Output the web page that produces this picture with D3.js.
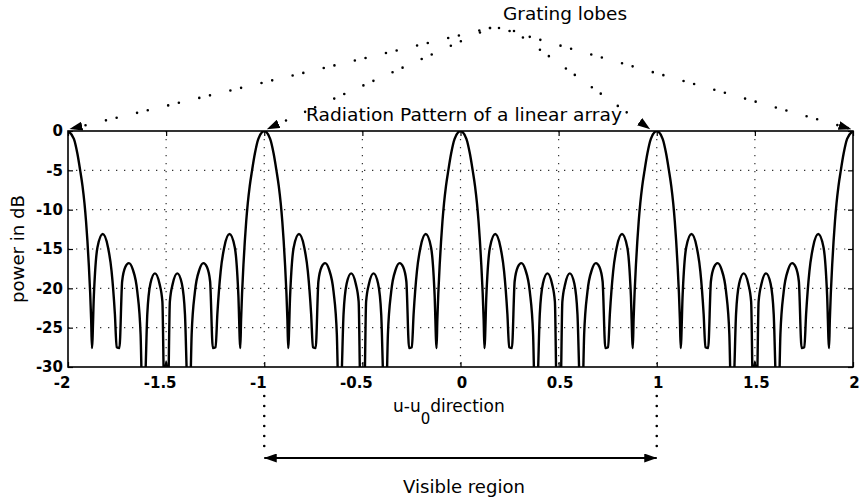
<!DOCTYPE html>
<html>
<head>
<meta charset="utf-8">
<script src="https://cdn.jsdelivr.net/npm/d3@7"></script>
<style>
  body { margin: 0; background: #fff; }
  svg { display: block; }
</style>
</head>
<body>
<svg id="chart" width="863" height="500"></svg>
<script>
// Axis ticks and their printed labels
const xTicks = [-2, -1.5, -1, -0.5, 0, 0.5, 1, 1.5, 2];
const xTickLabels = ["-2", "-1.5", "-1", "-0.5", "0", "0.5", "1", "1.5", "2"];
const yTicks = [0, -5, -10, -15, -20, -25, -30];
const yTickLabels = ["0", "-5", "-10", "-15", "-20", "-25", "-30"];

// Array factor power in dB, sampled along u - u0 (values under -30 dB fall below the axis)
const pattern = [
  [-2.000, 0], [-1.970, -1.0], [-1.952, -2.9], [-1.938, -5.0], [-1.926, -7.0], [-1.916, -9.2],
  [-1.908, -11.5], [-1.901, -14.0], [-1.894, -17.0], [-1.887, -20.6], [-1.882, -24.0], [-1.878, -27.6],
  [-1.868, -20.8], [-1.850, -14.8], [-1.823, -13.1],
  [-1.796, -14.8], [-1.778, -17.8], [-1.761, -23.3], [-1.752, -27.5], [-1.738, -27.6], [-1.724, -19.1],
  [-1.708, -17.3], [-1.690, -16.8], [-1.670, -17.6], [-1.647, -20.4], [-1.630, -25.9], [-1.622, -33],
  [-1.610, -33], [-1.596, -23.3], [-1.580, -19.4], [-1.557, -18.1], [-1.534, -19.4], [-1.519, -21.7],
  [-1.510, -33], [-1.500, -29.3], [-1.490, -33], [-1.481, -21.7], [-1.466, -19.4], [-1.443, -18.1],
  [-1.420, -19.4], [-1.404, -23.3], [-1.390, -33], [-1.378, -33], [-1.370, -25.9], [-1.353, -20.4],
  [-1.330, -17.6], [-1.310, -16.8], [-1.292, -17.3], [-1.276, -19.1], [-1.262, -27.6], [-1.248, -27.5],
  [-1.239, -23.3], [-1.222, -17.8], [-1.204, -14.8], [-1.177, -13.1], [-1.150, -14.8], [-1.132, -20.8],
  [-1.122, -27.6], [-1.118, -24.0], [-1.113, -20.6], [-1.106, -17.0], [-1.099, -14.0], [-1.092, -11.5],
  [-1.084, -9.2], [-1.074, -7.0], [-1.062, -5.0], [-1.048, -2.9], [-1.030, -1.0],
  [-1.000, 0], [-0.970, -1.0], [-0.952, -2.9], [-0.938, -5.0], [-0.926, -7.0], [-0.916, -9.2],
  [-0.908, -11.5], [-0.901, -14.0], [-0.894, -17.0], [-0.887, -20.6], [-0.882, -24.0], [-0.878, -27.6],
  [-0.868, -20.8], [-0.850, -14.8], [-0.823, -13.1],
  [-0.796, -14.8], [-0.778, -17.8], [-0.761, -23.3], [-0.752, -27.5], [-0.738, -27.6], [-0.724, -19.1],
  [-0.708, -17.3], [-0.690, -16.8], [-0.670, -17.6], [-0.647, -20.4], [-0.630, -25.9], [-0.622, -33],
  [-0.610, -33], [-0.596, -23.3], [-0.580, -19.4], [-0.557, -18.1], [-0.534, -19.4], [-0.519, -21.7],
  [-0.510, -33], [-0.490, -33], [-0.481, -21.7], [-0.466, -19.4], [-0.443, -18.1],
  [-0.420, -19.4], [-0.404, -23.3], [-0.390, -33], [-0.378, -33], [-0.370, -25.9], [-0.353, -20.4],
  [-0.330, -17.6], [-0.310, -16.8], [-0.292, -17.3], [-0.276, -19.1], [-0.262, -27.6], [-0.248, -27.5],
  [-0.239, -23.3], [-0.222, -17.8], [-0.204, -14.8], [-0.177, -13.1], [-0.150, -14.8], [-0.132, -20.8],
  [-0.122, -27.6], [-0.118, -24.0], [-0.113, -20.6], [-0.106, -17.0], [-0.099, -14.0], [-0.092, -11.5],
  [-0.084, -9.2], [-0.074, -7.0], [-0.062, -5.0], [-0.048, -2.9], [-0.030, -1.0],
  [0.000, 0], [0.030, -1.0], [0.048, -2.9], [0.062, -5.0], [0.074, -7.0], [0.084, -9.2],
  [0.092, -11.5], [0.099, -14.0], [0.106, -17.0], [0.113, -20.6], [0.118, -24.0], [0.122, -27.6],
  [0.132, -20.8], [0.150, -14.8], [0.177, -13.1],
  [0.204, -14.8], [0.222, -17.8], [0.239, -23.3], [0.248, -27.5], [0.262, -27.6], [0.276, -19.1],
  [0.292, -17.3], [0.310, -16.8], [0.330, -17.6], [0.353, -20.4], [0.370, -25.9], [0.378, -33],
  [0.390, -33], [0.404, -23.3], [0.420, -19.4], [0.443, -18.1], [0.466, -19.4], [0.481, -21.7],
  [0.490, -33], [0.510, -33], [0.519, -21.7], [0.534, -19.4], [0.557, -18.1],
  [0.580, -19.4], [0.596, -23.3], [0.610, -33], [0.622, -33], [0.630, -25.9], [0.647, -20.4],
  [0.670, -17.6], [0.690, -16.8], [0.708, -17.3], [0.724, -19.1], [0.738, -27.6], [0.752, -27.5],
  [0.761, -23.3], [0.778, -17.8], [0.796, -14.8], [0.823, -13.1], [0.850, -14.8], [0.868, -20.8],
  [0.878, -27.6], [0.882, -24.0], [0.887, -20.6], [0.894, -17.0], [0.901, -14.0], [0.908, -11.5],
  [0.916, -9.2], [0.926, -7.0], [0.938, -5.0], [0.952, -2.9], [0.970, -1.0],
  [1.000, 0], [1.030, -1.0], [1.048, -2.9], [1.062, -5.0], [1.074, -7.0], [1.084, -9.2],
  [1.092, -11.5], [1.099, -14.0], [1.106, -17.0], [1.113, -20.6], [1.118, -24.0], [1.122, -27.6],
  [1.132, -20.8], [1.150, -14.8], [1.177, -13.1],
  [1.204, -14.8], [1.222, -17.8], [1.239, -23.3], [1.248, -27.5], [1.262, -27.6], [1.276, -19.1],
  [1.292, -17.3], [1.310, -16.8], [1.330, -17.6], [1.353, -20.4], [1.370, -25.9], [1.378, -33],
  [1.390, -33], [1.404, -23.3], [1.420, -19.4], [1.443, -18.1], [1.466, -19.4], [1.481, -21.7],
  [1.490, -33], [1.500, -29.3], [1.510, -33], [1.519, -21.7], [1.534, -19.4], [1.557, -18.1],
  [1.580, -19.4], [1.596, -23.3], [1.610, -33], [1.622, -33], [1.630, -25.9], [1.647, -20.4],
  [1.670, -17.6], [1.690, -16.8], [1.708, -17.3], [1.724, -19.1], [1.738, -27.6], [1.752, -27.5],
  [1.761, -23.3], [1.778, -17.8], [1.796, -14.8], [1.823, -13.1], [1.850, -14.8], [1.868, -20.8],
  [1.878, -27.6], [1.882, -24.0], [1.887, -20.6], [1.894, -17.0], [1.901, -14.0], [1.908, -11.5],
  [1.916, -9.2], [1.926, -7.0], [1.938, -5.0], [1.952, -2.9], [1.970, -1.0], [2.000, 0]
];

// Grating lobe peaks pointed at by the annotation, and the visible region bounds
const gratingLobes = [-2, -1, 1, 2];
const visibleRegion = [-1, 1];

const titleText = "Radiation Pattern of a linear array";
const yLabelText = "power in dB";
const gratingText = "Grating lobes";
const visibleText = "Visible region";

const svg = d3.select("#chart");
const box = { left: 68, right: 853, top: 131, bottom: 367 };

const x = d3.scaleLinear().domain([-2, 2]).range([box.left, box.right]);
const y = d3.scaleLinear().domain([-30, 0]).range([box.bottom, box.top]);

const labelFont = "'DejaVu Sans', 'Liberation Sans', sans-serif";

// arrowhead marker
const defs = svg.append("defs");
defs.append("marker")
  .attr("id", "head")
  .attr("markerUnits", "userSpaceOnUse")
  .attr("viewBox", "0 0 13 9")
  .attr("markerWidth", 13).attr("markerHeight", 9)
  .attr("refX", 12.5).attr("refY", 4.5)
  .attr("orient", "auto-start-reverse")
  .append("path").attr("d", "M0,0 L13,4.5 L0,9 Z").attr("fill", "#000");

defs.append("clipPath").attr("id", "plotClip")
  .append("rect")
  .attr("x", box.left).attr("y", box.top)
  .attr("width", box.right - box.left).attr("height", box.bottom - box.top);

// dotted grid
const grid = svg.append("g").attr("stroke", "#333").attr("stroke-width", 1.2)
  .attr("stroke-dasharray", "1.3,6.7");
grid.selectAll("line.gx").data(xTicks.slice(1, -1)).join("line")
  .attr("x1", d => x(d)).attr("x2", d => x(d))
  .attr("y1", box.top).attr("y2", box.bottom);
grid.selectAll("line.gy").data(yTicks.slice(1, -1)).join("line")
  .attr("y1", d => y(d)).attr("y2", d => y(d))
  .attr("x1", box.left).attr("x2", box.right);

// inward tick marks on all four sides
const tickLen = 5;
svg.append("g").attr("transform", `translate(0,${box.bottom})`)
  .call(d3.axisBottom(x).tickValues(xTicks).tickSize(-tickLen).tickFormat(""))
  .call(g => g.select(".domain").remove());
svg.append("g").attr("transform", `translate(0,${box.top})`)
  .call(d3.axisTop(x).tickValues(xTicks).tickSize(-tickLen).tickFormat(""))
  .call(g => g.select(".domain").remove());
svg.append("g").attr("transform", `translate(${box.left},0)`)
  .call(d3.axisLeft(y).tickValues(yTicks).tickSize(-tickLen).tickFormat(""))
  .call(g => g.select(".domain").remove());
svg.append("g").attr("transform", `translate(${box.right},0)`)
  .call(d3.axisRight(y).tickValues(yTicks).tickSize(-tickLen).tickFormat(""))
  .call(g => g.select(".domain").remove());
svg.selectAll(".tick line").attr("stroke", "#000").attr("stroke-width", 1.2);

// tick labels
svg.append("g")
  .attr("transform", `translate(0,${box.bottom})`)
  .call(d3.axisBottom(x).tickValues(xTicks).tickSize(0).tickPadding(0)
    .tickFormat((d, i) => xTickLabels[i]))
  .call(g => g.select(".domain").remove())
  .call(g => g.selectAll("text")
    .attr("y", 21).attr("dy", 0)
    .attr("dx", d => d < 0 ? -6.5 : 1)
    .attr("font-family", labelFont).attr("font-weight", "bold")
    .attr("font-size", 15).attr("fill", "#000"));

svg.append("g")
  .attr("transform", `translate(${box.left},0)`)
  .call(d3.axisLeft(y).tickValues(yTicks).tickSize(0).tickPadding(5)
    .tickFormat((d, i) => yTickLabels[i]))
  .call(g => g.select(".domain").remove())
  .call(g => g.selectAll("text")
    .attr("font-family", labelFont).attr("font-weight", "bold")
    .attr("font-size", 15).attr("fill", "#000"));

// pattern curve
svg.append("path")
  .datum(pattern)
  .attr("clip-path", "url(#plotClip)")
  .attr("fill", "none")
  .attr("stroke", "#000")
  .attr("stroke-width", 2.4)
  .attr("stroke-linejoin", "round")
  .attr("d", d3.line().x(d => x(d[0])).y(d => y(d[1])).curve(d3.curveMonotoneX));

// axes box
svg.append("rect")
  .attr("x", box.left).attr("y", box.top)
  .attr("width", box.right - box.left).attr("height", box.bottom - box.top)
  .attr("fill", "none").attr("stroke", "#000").attr("stroke-width", 1.6);

// title and axis labels
svg.append("text")
  .attr("x", 464).attr("y", 121)
  .attr("text-anchor", "middle")
  .attr("font-family", labelFont).attr("font-size", 18)
  .attr("textLength", 316).attr("lengthAdjust", "spacingAndGlyphs")
  .text(titleText);

svg.append("text")
  .attr("transform", "translate(24,249) rotate(-90)")
  .attr("text-anchor", "middle")
  .attr("font-family", labelFont).attr("font-size", 17)
  .attr("textLength", 108).attr("lengthAdjust", "spacingAndGlyphs")
  .text(yLabelText);

const xl = svg.append("text")
  .attr("x", 393).attr("y", 412)
  .attr("font-family", labelFont).attr("font-size", 17);
xl.append("tspan").text("u-u");
xl.append("tspan").attr("dy", 12).attr("font-size", 15).text("0");
xl.append("tspan").attr("dy", -12).text("direction");

// grating lobe annotation
svg.append("text")
  .attr("x", 503).attr("y", 20)
  .attr("font-family", labelFont).attr("font-size", 17)
  .attr("textLength", 124).attr("lengthAdjust", "spacingAndGlyphs")
  .text(gratingText);

const gratingStart = { "-2": [490, 28], "-1": [490, 28], "1": [514, 31], "2": [499, 28] };
const gratingTipDx = { "-2": 2, "-1": 3, "1": -7, "2": -2 };
svg.append("g").selectAll("line").data(gratingLobes).join("line")
  .attr("x1", d => gratingStart[d][0]).attr("y1", d => gratingStart[d][1])
  .attr("x2", d => x(d) + gratingTipDx[d]).attr("y2", y(0) - 2)
  .attr("stroke", "#000").attr("stroke-width", 2.6)
  .attr("stroke-linecap", "round")
  .attr("stroke-dasharray", "0,11,0,21")
  .attr("marker-end", "url(#head)");

// visible region bracket
svg.append("g").selectAll("line").data(visibleRegion).join("line")
  .attr("x1", d => x(d)).attr("x2", d => x(d))
  .attr("y1", 396).attr("y2", 450)
  .attr("stroke", "#000").attr("stroke-width", 2.6)
  .attr("stroke-linecap", "round")
  .attr("stroke-dasharray", "0,10");

svg.append("line")
  .attr("x1", x(visibleRegion[0])).attr("x2", x(visibleRegion[1]))
  .attr("y1", 458).attr("y2", 458)
  .attr("stroke", "#000").attr("stroke-width", 2)
  .attr("marker-start", "url(#head)")
  .attr("marker-end", "url(#head)");

svg.append("text")
  .attr("x", 403).attr("y", 493)
  .attr("font-family", labelFont).attr("font-size", 17)
  .attr("textLength", 122).attr("lengthAdjust", "spacingAndGlyphs")
  .text(visibleText);
</script>
</body>
</html>
